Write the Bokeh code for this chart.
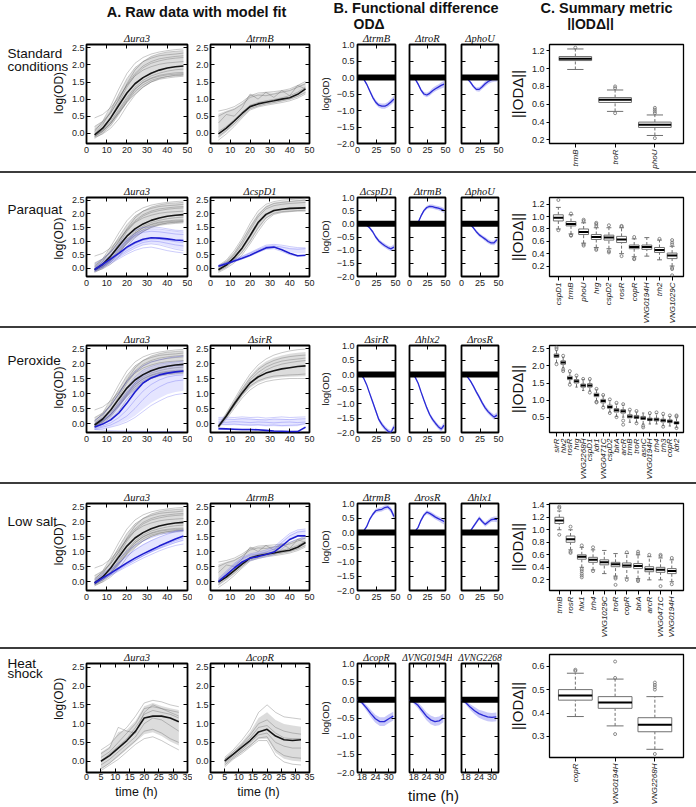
import math
import numpy as np
from bokeh.plotting import figure
from bokeh.layouts import row, column
from bokeh.models import Range1d, FixedTicker, Span, Spacer, NumeralTickFormatter, LinearAxis
from bokeh.embed import file_html
from bokeh.resources import INLINE
from bokeh.core.properties import value

FONT = "Liberation Sans"
SERIF = "Liberation Serif"

# ======================= DATA =======================
T = [4, 8, 12, 16, 20, 24, 28, 32, 36, 40, 44, 48]
TH = [5, 8, 11, 14, 17, 20, 23, 26, 29, 32]
TB5 = [16, 18, 20, 22, 24, 26, 28, 30, 32]

ura3_mean = [-0.05, 0.15, 0.45, 0.82, 1.18, 1.45, 1.63, 1.76, 1.85, 1.91, 1.95, 1.97]
ura3_reps = [
    [0.05, 0.35, 0.8, 1.3, 1.75, 2.05, 2.22, 2.32, 2.38, 2.42, 2.45, 2.47],
    [0.0, 0.25, 0.65, 1.15, 1.6, 1.92, 2.1, 2.2, 2.27, 2.3, 2.32, 2.35],
    [-0.1, 0.1, 0.45, 0.9, 1.35, 1.7, 1.92, 2.05, 2.12, 2.17, 2.2, 2.22],
    [0.45, 0.55, 0.75, 1.05, 1.4, 1.68, 1.85, 1.95, 2.02, 2.06, 2.08, 2.1],
    [-0.05, 0.1, 0.35, 0.7, 1.05, 1.35, 1.55, 1.68, 1.76, 1.82, 1.86, 1.88],
    [-0.1, 0.05, 0.3, 0.65, 1.0, 1.3, 1.48, 1.6, 1.67, 1.71, 1.73, 1.75],
    [-0.15, 0.0, 0.22, 0.55, 0.92, 1.22, 1.42, 1.55, 1.62, 1.66, 1.68, 1.7],
    [-0.12, -0.02, 0.15, 0.42, 0.8, 1.12, 1.35, 1.5, 1.58, 1.62, 1.65, 1.67],
    [0.2, 0.35, 0.6, 0.98, 1.45, 1.85, 2.1, 2.25, 2.33, 2.38, 2.4, 2.42],
    [-0.08, 0.05, 0.28, 0.6, 0.95, 1.28, 1.5, 1.62, 1.7, 1.74, 1.77, 1.78],
    [0.1, 0.3, 0.6, 1.0, 1.42, 1.75, 1.97, 2.1, 2.18, 2.22, 2.25, 2.27],
    [-0.05, 0.08, 0.3, 0.6, 0.9, 1.15, 1.35, 1.5, 1.6, 1.66, 1.7, 1.72],
]
trmB_mean = [-0.02, 0.15, 0.36, 0.58, 0.78, 0.86, 0.91, 0.95, 1.0, 1.04, 1.14, 1.3]
trmB_reps = [
    [0.65, 0.7, 0.78, 0.92, 1.1, 1.18, 1.2, 1.22, 1.25, 1.3, 1.4, 1.52],
    [0.5, 0.62, 0.7, 0.85, 1.05, 1.12, 1.1, 1.15, 1.2, 1.25, 1.35, 1.45],
    [-0.1, 0.08, 0.28, 0.5, 0.72, 0.8, 0.86, 0.9, 0.95, 1.0, 1.08, 1.2],
    [-0.2, -0.02, 0.2, 0.45, 0.68, 0.77, 0.82, 0.86, 0.9, 0.95, 1.03, 1.15],
    [0.05, 0.2, 0.4, 0.62, 0.82, 0.9, 0.95, 0.99, 1.04, 1.1, 1.2, 1.35],
    [0.3, 0.55, 0.5, 0.75, 1.15, 1.0, 1.2, 1.05, 1.25, 1.1, 1.4, 1.3],
]
paraquat_ura3_mean = [-0.05, 0.15, 0.35, 0.55, 0.78, 0.95, 1.07, 1.12, 1.11, 1.08, 1.04, 1.02]
paraquat_ura3_reps = [
    [0.15, 0.35, 0.6, 0.9, 1.2, 1.4, 1.5, 1.52, 1.5, 1.45, 1.4, 1.38],
    [0.0, 0.2, 0.45, 0.72, 1.0, 1.2, 1.32, 1.36, 1.34, 1.3, 1.26, 1.24],
    [-0.05, 0.12, 0.3, 0.5, 0.72, 0.9, 1.02, 1.08, 1.07, 1.03, 0.98, 0.95],
    [-0.1, 0.05, 0.22, 0.4, 0.58, 0.74, 0.86, 0.9, 0.86, 0.78, 0.7, 0.65],
    [-0.08, 0.08, 0.25, 0.45, 0.65, 0.82, 0.95, 1.0, 0.98, 0.92, 0.86, 0.82],
    [0.05, 0.25, 0.5, 0.8, 1.08, 1.28, 1.4, 1.45, 1.44, 1.4, 1.36, 1.33],
    [-0.12, 0.02, 0.18, 0.35, 0.52, 0.66, 0.75, 0.78, 0.72, 0.65, 0.6, 0.56],
]
cspD1_gray_mean = [-0.05, 0.12, 0.4, 0.75, 1.2, 1.68, 1.98, 2.12, 2.17, 2.2, 2.21, 2.22]
cspD1_gray_reps = [
    [0.1, 0.3, 0.65, 1.1, 1.65, 2.1, 2.35, 2.45, 2.5, 2.52, 2.55, 2.6],
    [0.0, 0.2, 0.5, 0.9, 1.4, 1.88, 2.18, 2.3, 2.35, 2.38, 2.4, 2.42],
    [-0.1, 0.05, 0.3, 0.6, 1.0, 1.48, 1.85, 2.02, 2.08, 2.1, 2.12, 2.13],
    [-0.15, 0.0, 0.2, 0.5, 0.9, 1.35, 1.75, 1.98, 2.05, 2.08, 2.1, 2.1],
    [0.05, 0.25, 0.55, 1.0, 1.5, 1.95, 2.25, 2.38, 2.42, 2.45, 2.48, 2.5],
    [-0.05, 0.1, 0.35, 0.7, 1.15, 1.62, 1.95, 2.1, 2.15, 2.18, 2.2, 2.25],
]
cspD1_blue_mean = [0.08, 0.17, 0.27, 0.37, 0.48, 0.62, 0.75, 0.78, 0.68, 0.55, 0.46, 0.48]
cspD1_blue_reps = [
    [0.12, 0.22, 0.33, 0.45, 0.58, 0.72, 0.85, 0.88, 0.85, 0.8, 0.76, 0.75],
    [0.05, 0.14, 0.24, 0.34, 0.45, 0.58, 0.7, 0.72, 0.62, 0.5, 0.44, 0.46],
    [0.1, 0.2, 0.3, 0.42, 0.55, 0.68, 0.8, 0.82, 0.78, 0.72, 0.7, 0.72],
]
perox_ura3_mean = [-0.12, -0.02, 0.12, 0.35, 0.68, 1.05, 1.35, 1.52, 1.62, 1.68, 1.72, 1.75]
perox_ura3_reps = [
    [0.1, 0.3, 0.6, 1.0, 1.4, 1.72, 1.92, 2.05, 2.12, 2.18, 2.22, 2.25],
    [-0.05, 0.1, 0.3, 0.6, 0.98, 1.35, 1.6, 1.75, 1.84, 1.9, 1.93, 1.95],
    [-0.15, -0.08, 0.02, 0.2, 0.45, 0.78, 1.08, 1.3, 1.45, 1.55, 1.6, 1.62],
    [-0.18, -0.12, -0.05, 0.08, 0.25, 0.5, 0.8, 1.05, 1.22, 1.35, 1.42, 1.45],
    [-0.2, -0.18, -0.12, -0.05, 0.05, 0.2, 0.4, 0.6, 0.75, 0.88, 0.96, 1.0],
    [-0.2, -0.22, -0.24, -0.25, -0.25, -0.26, -0.26, -0.27, -0.27, -0.27, -0.27, -0.27],
    [0.0, 0.2, 0.45, 0.8, 1.2, 1.55, 1.78, 1.9, 1.98, 2.02, 2.05, 2.08],
]
sirR_gray_mean = [-0.1, 0.25, 0.65, 1.02, 1.35, 1.55, 1.68, 1.76, 1.82, 1.86, 1.9, 1.92]
sirR_gray_reps = [
    [-0.05, 0.35, 0.8, 1.25, 1.65, 1.95, 2.15, 2.28, 2.36, 2.42, 2.46, 2.48],
    [-0.08, 0.3, 0.72, 1.15, 1.52, 1.8, 1.98, 2.1, 2.18, 2.23, 2.26, 2.28],
    [-0.1, 0.28, 0.68, 1.08, 1.45, 1.7, 1.88, 2.0, 2.08, 2.12, 2.15, 2.18],
    [-0.12, 0.2, 0.58, 0.95, 1.25, 1.42, 1.52, 1.58, 1.6, 1.62, 1.63, 1.65],
    [-0.15, 0.15, 0.5, 0.85, 1.12, 1.3, 1.4, 1.45, 1.48, 1.5, 1.5, 1.5],
    [-0.1, 0.25, 0.62, 1.0, 1.35, 1.6, 1.78, 1.9, 1.98, 2.03, 2.07, 2.1],
]
sirR_blue_mean = [-0.17, -0.18, -0.19, -0.2, -0.2, -0.21, -0.23, -0.25, -0.26, -0.27, -0.27, -0.12]
sirR_blue_reps = [
    [0.2, 0.21, 0.2, 0.22, 0.2, 0.21, 0.18, 0.2, 0.22, 0.2, 0.21, 0.22],
    [0.15, 0.15, 0.14, 0.16, 0.15, 0.13, 0.12, 0.15, 0.14, 0.13, 0.15, 0.16],
    [0.05, 0.04, 0.06, 0.05, 0.03, 0.05, 0.04, 0.02, 0.04, 0.05, 0.03, 0.05],
    [-0.02, -0.03, -0.02, -0.04, -0.05, -0.04, -0.06, -0.05, -0.07, -0.06, -0.05, 0.0],
    [-0.2, -0.2, -0.21, -0.22, -0.22, -0.23, -0.24, -0.26, -0.27, -0.27, -0.26, -0.15],
]
lowsalt_ura3_mean = [-0.05, 0.12, 0.28, 0.45, 0.62, 0.78, 0.92, 1.05, 1.18, 1.3, 1.42, 1.52]
lowsalt_ura3_reps = [
    [0.0, 0.2, 0.4, 0.62, 0.85, 1.05, 1.22, 1.36, 1.48, 1.58, 1.66, 1.72],
    [-0.05, 0.1, 0.25, 0.42, 0.58, 0.72, 0.86, 0.98, 1.1, 1.2, 1.3, 1.38],
    [-0.1, 0.05, 0.2, 0.35, 0.5, 0.64, 0.78, 0.9, 1.02, 1.12, 1.2, 1.25],
    [0.05, 0.25, 0.48, 0.75, 1.0, 1.2, 1.35, 1.46, 1.55, 1.62, 1.68, 1.7],
    [-0.08, 0.08, 0.22, 0.38, 0.55, 0.7, 0.85, 1.0, 1.12, 1.25, 1.36, 1.45],
]
lowsalt_trmB_mean = [0.0, 0.22, 0.45, 0.65, 0.78, 0.83, 0.9, 0.98, 1.18, 1.4, 1.52, 1.52]
lowsalt_trmB_reps = [
    [0.05, 0.3, 0.55, 0.75, 0.88, 0.92, 0.98, 1.08, 1.3, 1.52, 1.65, 1.68],
    [-0.05, 0.15, 0.38, 0.58, 0.7, 0.76, 0.83, 0.9, 1.08, 1.3, 1.42, 1.45],
    [0.1, 0.35, 0.6, 0.8, 0.92, 0.98, 1.05, 1.15, 1.38, 1.6, 1.72, 1.75],
]
heat_ura3_mean = [0.0, 0.15, 0.35, 0.55, 0.8, 1.15, 1.2, 1.2, 1.15, 1.05]
heat_ura3_reps = [
    [0.3, 0.45, 0.7, 0.9, 1.2, 1.55, 1.62, 1.58, 1.5, 1.45],
    [0.1, 0.25, 0.5, 0.75, 1.0, 1.4, 1.45, 1.4, 1.3, 1.2],
    [-0.1, 0.05, 0.25, 0.45, 0.65, 1.0, 1.15, 1.1, 0.95, 0.8],
    [-0.2, -0.05, 0.15, 0.35, 0.55, 0.8, 0.85, 0.75, 0.6, 0.5],
    [-0.25, -0.1, 0.05, 0.25, 0.45, 0.6, 0.65, 0.55, 0.42, 0.3],
    [0.2, 0.35, 0.9, 0.8, 0.75, 1.3, 1.5, 1.4, 1.35, 1.3],
    [0.0, 0.2, 0.4, 0.6, 0.9, 1.25, 1.35, 1.3, 1.25, 1.15],
]
heat_copR_mean = [0.0, 0.18, 0.37, 0.55, 0.78, 0.85, 0.67, 0.57, 0.55, 0.57]
heat_copR_reps = [
    [0.1, 0.3, 0.55, 0.85, 1.3, 1.5, 1.3, 1.18, 1.15, 1.12],
    [0.05, 0.25, 0.45, 0.7, 1.0, 1.1, 0.9, 0.8, 0.75, 0.72],
    [-0.05, 0.12, 0.3, 0.5, 0.7, 0.75, 0.5, 0.4, 0.35, 0.35],
    [-0.1, 0.08, 0.25, 0.42, 0.62, 0.65, 0.3, 0.15, 0.1, 0.08],
    [-0.15, 0.05, 0.2, 0.38, 0.55, 0.55, 0.15, -0.02, -0.08, -0.1],
    [0.05, 0.2, 0.42, 0.62, 0.9, 0.95, 0.75, 0.62, 0.6, 0.6],
]

b_std_trmB = [0.0, -0.04, -0.2, -0.4, -0.6, -0.75, -0.84, -0.87, -0.87, -0.82, -0.74, -0.65]
b_std_troR = [0.0, -0.05, -0.2, -0.38, -0.5, -0.53, -0.48, -0.4, -0.34, -0.29, -0.24, -0.2]
b_std_phoU = [0.0, -0.04, -0.14, -0.27, -0.36, -0.36, -0.28, -0.19, -0.12, -0.07, -0.04, -0.02]
b_par_cspD1 = [0.0, -0.01, -0.05, -0.15, -0.3, -0.5, -0.65, -0.75, -0.83, -0.9, -0.95, -0.88]
b_par_trmB = [0.0, 0.0, 0.05, 0.3, 0.5, 0.62, 0.66, 0.65, 0.62, 0.6, 0.56, 0.5]
b_par_phoU = [0.0, 0.0, -0.03, -0.15, -0.3, -0.42, -0.5, -0.58, -0.67, -0.72, -0.72, -0.6]
b_per_sirR = [0.0, -0.12, -0.35, -0.65, -0.95, -1.25, -1.55, -1.72, -1.85, -1.95, -2.0, -1.8]
b_per_hlx2 = [0.0, -0.1, -0.3, -0.6, -0.88, -1.15, -1.38, -1.55, -1.68, -1.8, -1.88, -1.75]
b_per_rosR = [0.0, -0.08, -0.22, -0.4, -0.6, -0.78, -0.98, -1.15, -1.28, -1.38, -1.47, -1.4]
b_low_trmB = [0.0, 0.05, 0.2, 0.45, 0.62, 0.75, 0.78, 0.8, 0.86, 0.88, 0.78, 0.55]
b_low_rosR = [0.0, 0.05, 0.18, 0.42, 0.6, 0.7, 0.66, 0.6, 0.53, 0.48, 0.43, 0.38]
b_low_hlx1 = [0.0, 0.0, 0.05, 0.2, 0.35, 0.5, 0.38, 0.28, 0.36, 0.44, 0.46, 0.45]
b_heat_copR = [0.0, -0.08, -0.22, -0.38, -0.52, -0.6, -0.6, -0.52, -0.45]
b_heat_0194 = [0.0, -0.06, -0.15, -0.3, -0.45, -0.55, -0.6, -0.58, -0.5]
b_heat_2268 = [0.0, -0.08, -0.2, -0.3, -0.38, -0.43, -0.47, -0.48, -0.47]
b_band = [0.02, 0.03, 0.04, 0.05, 0.06, 0.07, 0.07, 0.08, 0.08, 0.08, 0.09, 0.1]
b_band_heat = [0.02, 0.05, 0.08, 0.1, 0.11, 0.12, 0.12, 0.12, 0.12]

c1_cats = ["trmB", "troR", "phoU"]
c1_med = [1.11, 0.65, 0.37]
c1_q1 = [1.09, 0.62, 0.34]
c1_q3 = [1.135, 0.675, 0.40]
c1_lo = [0.99, 0.52, 0.25]
c1_hi = [1.22, 0.76, 0.48]
c1_out = [[1.235], [0.78, 0.80, 0.50], [0.50, 0.52, 0.54, 0.56, 0.22]]

c2_cats = ["cspD1", "trmB", "phoU", "hrg", "cspD2", "rosR", "copR", "VNG0194H", "trh2", "VNG1029C"]
c2_med = [0.98, 0.88, 0.75, 0.67, 0.66, 0.63, 0.51, 0.51, 0.46, 0.37]
c2_q1 = [0.93, 0.85, 0.71, 0.63, 0.62, 0.58, 0.48, 0.47, 0.42, 0.32]
c2_q3 = [1.03, 0.92, 0.80, 0.71, 0.70, 0.68, 0.54, 0.54, 0.50, 0.41]
c2_lo = [0.80, 0.72, 0.57, 0.50, 0.48, 0.40, 0.35, 0.36, 0.30, 0.20]
c2_hi = [1.15, 1.03, 0.90, 0.82, 0.82, 0.82, 0.64, 0.66, 0.62, 0.52]
c2_out = [[1.27, 0.78], [1.05, 0.70, 0.69], [0.93, 0.95, 0.55, 0.53], [0.85, 0.88, 0.90, 0.48, 0.46],
          [0.86, 0.44, 0.42], [0.85, 0.84, 0.36], [0.67, 0.32, 0.31], [], [0.64],
          [0.55, 0.58, 0.62, 0.17, 0.15, 0.05]]

c3_cats = ["sirR", "hlx2", "rosR", "hrg", "VNG2268H", "cspD1", "idr1", "VNG0471C", "cspD2", "birA",
           "arcR", "trmB", "troR", "asnC", "VNG0194H", "trh4", "trh3", "copR", "idr2"]
c3_med = [2.3, 2.1, 1.65, 1.55, 1.43, 1.43, 1.15, 0.97, 0.8, 0.7, 0.67, 0.52, 0.5, 0.47, 0.43, 0.43, 0.4, 0.38, 0.33]
c3_q1 = [2.25, 2.05, 1.6, 1.5, 1.38, 1.38, 1.1, 0.92, 0.76, 0.65, 0.62, 0.48, 0.46, 0.43, 0.4, 0.39, 0.36, 0.34, 0.3]
c3_q3 = [2.35, 2.15, 1.7, 1.6, 1.47, 1.48, 1.2, 1.02, 0.85, 0.75, 0.72, 0.57, 0.55, 0.52, 0.47, 0.47, 0.44, 0.42, 0.37]
c3_lo = [2.1, 1.95, 1.5, 1.38, 1.28, 1.27, 0.98, 0.82, 0.65, 0.52, 0.5, 0.35, 0.35, 0.3, 0.3, 0.3, 0.25, 0.24, 0.2]
c3_hi = [2.45, 2.25, 1.8, 1.68, 1.6, 1.58, 1.3, 1.12, 0.98, 0.88, 0.85, 0.68, 0.65, 0.62, 0.58, 0.6, 0.55, 0.52, 0.48]
c3_out = [[2.55, 2.5, 2.05], [2.3, 1.9, 1.85], [1.85, 1.45], [1.72], [1.62], [1.62, 1.22],
          [1.33, 0.95, 0.93], [1.15, 0.78], [1.02, 0.62], [0.92, 0.5], [0.88, 0.4, 0.28], [0.72],
          [0.68, 0.32], [0.2, 0.25], [0.62], [0.64], [0.6, 0.22], [0.55], [0.52, 0.55, 0.18]]

c4_cats = ["trmB", "rosR", "hlx1", "trh4", "VNG1029C", "troR", "copR", "birA", "arcR", "VNG0471C", "VNG0194H"]
c4_med = [1.15, 0.85, 0.57, 0.52, 0.48, 0.45, 0.43, 0.42, 0.37, 0.36, 0.34]
c4_q1 = [1.1, 0.8, 0.53, 0.48, 0.44, 0.41, 0.4, 0.38, 0.33, 0.32, 0.3]
c4_q3 = [1.2, 0.9, 0.6, 0.56, 0.52, 0.48, 0.47, 0.46, 0.41, 0.4, 0.38]
c4_lo = [1.0, 0.68, 0.4, 0.36, 0.3, 0.26, 0.23, 0.22, 0.2, 0.2, 0.17]
c4_hi = [1.3, 1.0, 0.72, 0.68, 0.67, 0.62, 0.62, 0.6, 0.57, 0.55, 0.52]
c4_out = [[1.35, 1.37, 0.92], [1.05, 0.65, 0.63], [0.75, 0.37, 0.34, 0.3, 0.27, 0.24], [0.72, 0.34], [],
          [0.24, 0.22, 0.12], [0.64, 0.2], [0.62, 0.65, 0.2, 0.18], [0.6], [0.58, 0.6, 0.1], [0.55, 0.13]]

c5_cats = ["copR", "VNG0194H", "VNG2268H"]
c5_med = [0.475, 0.445, 0.35]
c5_q1 = [0.455, 0.42, 0.32]
c5_q3 = [0.50, 0.47, 0.38]
c5_lo = [0.385, 0.345, 0.245]
c5_hi = [0.57, 0.545, 0.47]
c5_out = [[0.58, 0.585], [0.62, 0.31, 0.55], [0.50, 0.51, 0.52, 0.53, 0.225]]

# ======================= STYLE / LAYOUT =======================
# (figure width, left border, right border)
W = dict(L=(68, 0, 0), A1=(124, 17, 5), A2=(124, 15, 7), B1=(86, 41, 7), B2=(50, 7, 7),
         B3=(53, 9, 7), C=(191, 41, 13))
YR_A = (-0.3, 2.6)
YT_A = [0.0, 0.5, 1.0, 1.5, 2.0, 2.5]
YR_B = (-2.0, 1.0)
YT_B = [-2.0, -1.5, -1.0, -0.5, 0.0, 0.5, 1.0]
YL_B = {-2.0: "\u22122.0", -1.5: "\u22121.5", -1.0: "\u22121.0", -0.5: "\u22120.5", 0.0: "0.0", 0.5: "0.5", 1.0: "1.0"}

GRAY_LINE = "#555555"
BLUE_LINE = "#4a4af0"
BLUE_MEAN = "#1e1ed0"


def make_fig(key, h, xr, yr, tb, bb, title=""):
    w, lb, rb = W[key]
    p = figure(width=w, height=h, x_range=Range1d(*xr), y_range=Range1d(*yr),
               output_backend="svg", toolbar_location=None, title=title,
               min_border_left=lb, min_border_right=rb, min_border_top=tb, min_border_bottom=bb)
    p.grid.visible = False
    p.outline_line_color = "black"
    p.outline_line_width = 1.8
    p.background_fill_color = "white"
    p.border_fill_color = "white"
    if title:
        p.title.align = "center"
        p.title.text_font = SERIF
        p.title.text_font_style = "italic"
        p.title.text_font_size = "10.5px"
        p.title.text_color = "#111111"
        p.title.standoff = 1
        p.title.offset = 0
    else:
        p.title.visible = False
    return p


def style_axis(ax, size="9px", tin=4, tout=0, standoff=3):
    ax.axis_line_color = None
    ax.major_tick_in = tin
    ax.major_tick_out = tout
    ax.major_tick_line_color = "black"
    ax.minor_tick_line_color = None
    ax.major_label_text_font = FONT
    ax.major_label_text_font_size = size
    ax.major_label_text_color = "#222222"
    ax.major_label_standoff = standoff
    ax.axis_label_text_font = FONT
    ax.axis_label_text_font_style = "normal"
    ax.axis_label_text_color = "#111111"


def mirror_ticks(p, xticks, yticks):
    # matplotlib-style inward ticks on the top and right edges of the frame (no labels)
    for loc, ticks in (("right", yticks), ("above", xticks)):
        ax = LinearAxis(ticker=FixedTicker(ticks=ticks))
        ax.axis_line_color = None
        ax.major_tick_in = 4
        ax.major_tick_out = 0
        ax.major_tick_line_color = "black"
        ax.minor_tick_line_color = None
        ax.major_label_overrides = {k: "" for k in ticks}
        ax.major_label_text_font_size = "1px"
        ax.major_label_standoff = 0
        p.add_layout(ax, loc)


def a_panel(key, h, tb, bb, xr, xticks, t, title, g_reps, g_mean, b_reps=None, b_mean=None, xstand=3):
    p = make_fig(key, h, xr, YR_A, tb, bb, title)
    g = np.array(g_reps)
    p.varea(x=t, y1=np.quantile(g, 0.1, axis=0), y2=np.quantile(g, 0.9, axis=0),
            fill_color="#808080", fill_alpha=0.28)
    p.multi_line(xs=[t] * len(g_reps), ys=g_reps, line_color=GRAY_LINE, line_alpha=0.4, line_width=0.8)
    if b_reps is not None:
        b = np.array(b_reps)
        p.varea(x=t, y1=np.quantile(b, 0.2, axis=0), y2=np.quantile(b, 0.8, axis=0),
                fill_color="#7070ff", fill_alpha=0.18)
        p.multi_line(xs=[t] * len(b_reps), ys=b_reps, line_color=BLUE_LINE, line_alpha=0.35, line_width=0.8)
    p.line(t, g_mean, line_color="#151515", line_width=1.6)
    if b_mean is not None:
        p.line(t, b_mean, line_color=BLUE_MEAN, line_width=1.6)
    style_axis(p.xaxis[0], standoff=xstand)
    style_axis(p.yaxis[0], standoff=2)
    p.xaxis[0].ticker = FixedTicker(ticks=xticks)
    p.yaxis[0].ticker = FixedTicker(ticks=YT_A)
    p.yaxis[0].formatter = NumeralTickFormatter(format="0.0")
    mirror_ticks(p, xticks, YT_A)
    return p


def b_panel(key, h, tb, bb, xr, xticks, t, title, vals, half, labels=False, tsize="10.5px", xstand=3):
    p = make_fig(key, h, xr, YR_B, tb, bb, title)
    p.title.text_font_size = tsize
    lo = [v - s for v, s in zip(vals, half)]
    hi = [v + s for v, s in zip(vals, half)]
    p.varea(x=t, y1=lo, y2=hi, fill_color="#9c9cf4", fill_alpha=0.55)
    p.line(t, vals, line_color="#2a2ad6", line_width=1.3)
    p.add_layout(Span(location=0, dimension="width", line_color="black", line_width=6))
    style_axis(p.xaxis[0], standoff=xstand)
    style_axis(p.yaxis[0])
    p.xaxis[0].ticker = FixedTicker(ticks=xticks)
    p.yaxis[0].ticker = FixedTicker(ticks=YT_B)
    if labels:
        p.yaxis[0].major_label_overrides = YL_B
        p.yaxis[0].axis_label = "log(OD)"
        p.yaxis[0].axis_label_text_font_size = "9.5px"
        p.yaxis[0].axis_label_standoff = 3
    else:
        p.yaxis[0].major_label_overrides = {k: "" for k in YT_B}
    mirror_ticks(p, xticks, YT_B)
    return p


def c_panel(h, tb, bb, cats, med, q1, q3, lo, hi, outl, yr, yticks, pad, bw):
    n = len(cats)
    pos = [float(i) for i in range(1, n + 1)]
    p = make_fig("C", h, (1 - pad[0], n + pad[1]), yr, tb, bb)
    p.outline_line_width = 1.3
    cw = bw * 0.25
    ec = "#707070"
    p.segment(x0=pos, y0=q3, x1=pos, y1=hi, line_color=ec, line_width=1, line_dash="3 2")
    p.segment(x0=pos, y0=lo, x1=pos, y1=q1, line_color=ec, line_width=1, line_dash="3 2")
    p.segment(x0=[x - cw for x in pos], y0=hi, x1=[x + cw for x in pos], y1=hi, line_color=ec, line_width=1)
    p.segment(x0=[x - cw for x in pos], y0=lo, x1=[x + cw for x in pos], y1=lo, line_color=ec, line_width=1)
    p.vbar(x=pos, width=bw, bottom=q1, top=q3, fill_color="white", line_color=ec, line_width=1)
    p.segment(x0=[x - bw / 2 for x in pos], y0=med, x1=[x + bw / 2 for x in pos], y1=med,
              line_color="black", line_width=2)
    ox = [pos[i] for i, o in enumerate(outl) for _ in o]
    oy = [v for o in outl for v in o]
    p.scatter(ox, oy, marker="circle", size=3, fill_color=None, line_color=ec, line_width=0.8)
    style_axis(p.xaxis[0], size="8px", tin=0, tout=4, standoff=2)
    style_axis(p.yaxis[0], size="9px", tin=0, tout=3, standoff=2)
    p.xaxis.ticker = FixedTicker(ticks=pos)
    p.xaxis.major_label_overrides = {i + 1: c for i, c in enumerate(cats)}
    p.xaxis.major_label_orientation = math.pi / 2
    p.xaxis.major_label_text_font_style = "italic"
    p.yaxis.ticker = FixedTicker(ticks=yticks)
    p.yaxis.formatter = NumeralTickFormatter(format="0.0")
    p.yaxis.axis_label = "||OD\u0394||"
    p.yaxis.axis_label_text_font_size = "15px"
    p.yaxis.axis_label_standoff = 3
    return p


def text_strip(w, h):
    s = figure(width=w, height=h, output_backend="svg", toolbar_location=None,
               x_axis_location=None, y_axis_location=None, min_border=0,
               x_range=Range1d(0, w), y_range=Range1d(h, 0))
    s.grid.visible = False
    s.outline_line_color = None
    return s


def label_fig(h, lines, frame_top, frame_bottom):
    p = text_strip(W["L"][0], h)
    p.text(x=[7] * len(lines), y=[y for _, y in lines], text=[t for t, _ in lines],
           text_font=value(FONT), text_font_size="13.5px", text_align="left",
           text_baseline="middle", text_color="#111111")
    p.text(x=[58], y=[(frame_top + frame_bottom) / 2], text=["log(OD)"], angle=math.pi / 2,
           text_font=value(FONT), text_font_size="12px", text_align="center",
           text_baseline="middle", text_color="#111111")
    return p


def separator():
    return Spacer(width=696, height=2, styles={"background-color": "#3c3c3c"})


# ---------------- header ----------------
HH = 30
hdr = text_strip(696, HH)
hdr.text(x=[196], y=[11], text=["A. Raw data with model fit"], text_font=value(FONT),
         text_font_style="bold", text_font_size="14.5px", text_align="center", text_baseline="middle",
         text_color="#111111")
hdr.text(x=[333, 540], y=[7, 7], text=["B. Functional difference", "C. Summary metric"],
         text_font=value(FONT), text_font_style="bold", text_font_size="14.5px", text_align="left",
         text_baseline="middle", text_color="#111111")
hdr.text(x=[353], y=[23], text=["OD\u0394"], text_font=value(FONT), text_font_style="bold",
         text_font_size="14px", text_align="left", text_baseline="middle", text_color="#111111")
hdr.text(x=[590], y=[23], text=["||OD\u0394||"], text_font=value(FONT), text_font_style="bold",
         text_font_size="14px", text_align="center", text_baseline="middle", text_color="#111111")

XR_A = (0, 50)
XT_A = [0, 10, 20, 30, 40, 50]
XR_B = (0, 50)
XT_B = [0, 25, 50]

# ---------------- row 1: standard ----------------
h, tb, bb = 141, 13, 16
lab = label_fig(h, [("Standard", 13), ("conditions", 32)], tb, h - bb)
a1 = a_panel("A1", h, tb, bb, XR_A, XT_A, T, "\u0394ura3", ura3_reps, ura3_mean)
a2 = a_panel("A2", h, tb, bb, XR_A, XT_A, T, "\u0394trmB", trmB_reps, trmB_mean)
b1 = b_panel("B1", h, tb, 15, XR_B, XT_B, T, "\u0394trmB", b_std_trmB, b_band, labels=True)
b2 = b_panel("B2", h, tb, 15, XR_B, XT_B, T, "\u0394troR", b_std_troR, b_band)
b3 = b_panel("B3", h, tb, 15, XR_B, XT_B, T, "\u0394phoU", b_std_phoU, b_band)
c = c_panel(h, 10, 28, c1_cats, c1_med, c1_q1, c1_q3, c1_lo, c1_hi, c1_out, (0.16, 1.27),
            [0.2, 0.4, 0.6, 0.8, 1.0, 1.2], (0.65, 0.72), 0.82)
row1 = row(lab, a1, a2, b1, b2, b3, c)

# ---------------- row 2: paraquat ----------------
h, tb, bb = 153, 24, 18
lab = label_fig(h, [("Paraquat", 24)], tb, h - bb)
a1 = a_panel("A1", h, tb, bb, XR_A, XT_A, T, "\u0394ura3", ura3_reps, ura3_mean,
             paraquat_ura3_reps, paraquat_ura3_mean)
a2 = a_panel("A2", h, tb, bb, XR_A, XT_A, T, "\u0394cspD1", cspD1_gray_reps, cspD1_gray_mean,
             cspD1_blue_reps, cspD1_blue_mean)
b1 = b_panel("B1", h, 13, bb, XR_B, XT_B, T, "\u0394cspD1", b_par_cspD1, b_band, labels=True)
b2 = b_panel("B2", h, 13, bb, XR_B, XT_B, T, "\u0394trmB", b_par_trmB, b_band)
b3 = b_panel("B3", h, 13, bb, XR_B, XT_B, T, "\u0394phoU", b_par_phoU, b_band)
c = c_panel(h, 4, 48, c2_cats, c2_med, c2_q1, c2_q3, c2_lo, c2_hi, c2_out, (0.03, 1.31),
            [0.2, 0.4, 0.6, 0.8, 1.0, 1.2], (0.7, 0.9), 0.78)
row2 = row(lab, a1, a2, b1, b2, b3, c)

# ---------------- row 3: peroxide ----------------
h, tb, bb = 154, 17, 22
lab = label_fig(h, [("Peroxide", 26)], tb, h - bb)
a1 = a_panel("A1", h, tb, bb, XR_A, XT_A, T, "\u0394ura3", ura3_reps, ura3_mean,
             perox_ura3_reps, perox_ura3_mean)
a2 = a_panel("A2", h, tb, bb, XR_A, XT_A, T, "\u0394sirR", sirR_gray_reps, sirR_gray_mean,
             sirR_blue_reps, sirR_blue_mean)
b1 = b_panel("B1", h, tb, 24, XR_B, XT_B, T, "\u0394sirR", b_per_sirR, b_band, labels=True)
b2 = b_panel("B2", h, tb, 24, XR_B, XT_B, T, "\u0394hlx2", b_per_hlx2, b_band)
b3 = b_panel("B3", h, tb, 24, XR_B, XT_B, T, "\u0394rosR", b_per_rosR, b_band)
c = c_panel(h, 5, 49, c3_cats, c3_med, c3_q1, c3_q3, c3_lo, c3_hi, c3_out, (0.05, 2.6),
            [0.5, 1.0, 1.5, 2.0, 2.5], (1.05, 1.05), 0.7)
row3 = row(lab, a1, a2, b1, b2, b3, c)

# ---------------- row 4: low salt ----------------
h, tb, bb = 163, 19, 29
lab = label_fig(h, [("Low salt", 33)], tb, h - bb)
a1 = a_panel("A1", h, tb, bb, XR_A, XT_A, T, "\u0394ura3", ura3_reps, ura3_mean,
             lowsalt_ura3_reps, lowsalt_ura3_mean)
a2 = a_panel("A2", h, tb, bb, XR_A, XT_A, T, "\u0394trmB", trmB_reps, trmB_mean,
             lowsalt_trmB_reps, lowsalt_trmB_mean)
b1 = b_panel("B1", h, 18, 32, XR_B, XT_B, T, "\u0394trmB", b_low_trmB, b_band, labels=True)
b2 = b_panel("B2", h, 18, 32, XR_B, XT_B, T, "\u0394rosR", b_low_rosR, b_band)
b3 = b_panel("B3", h, 18, 32, XR_B, XT_B, T, "\u0394hlx1", b_low_hlx1, b_band)
c = c_panel(h, 6, 57, c4_cats, c4_med, c4_q1, c4_q3, c4_lo, c4_hi, c4_out, (0.03, 1.42),
            [0.2, 0.4, 0.6, 0.8, 1.0, 1.2, 1.4], (0.87, 1.04), 0.78)
row4 = row(lab, a1, a2, b1, b2, b3, c)

# ---------------- row 5: heat shock ----------------
h, tb = 158, 13
sub_h, sub_bb = 135, 12
XR_H = (0, 35)
XT_H = [0, 5, 10, 15, 20, 25, 30, 35]
lab = label_fig(h, [("Heat", 14), ("shock", 29)], tb, sub_h - sub_bb)
a1 = a_panel("A1", sub_h, tb, sub_bb, XR_H, XT_H, TH, "\u0394ura3", heat_ura3_reps, heat_ura3_mean, xstand=1)
a2 = a_panel("A2", sub_h, tb, sub_bb, XR_H, XT_H, TH, "\u0394copR", heat_copR_reps, heat_copR_mean, xstand=1)
XR_B5 = (16, 33)
XT_B5 = [18, 24, 30]
b1 = b_panel("B1", sub_h, tb, sub_bb, XR_B5, XT_B5, TB5, "\u0394copR", b_heat_copR, b_band_heat,
             labels=True, tsize="10px", xstand=1)
b2 = b_panel("B2", sub_h, tb, sub_bb, XR_B5, XT_B5, TB5, "\u0394VNG0194H", b_heat_0194, b_band_heat,
             tsize="9.5px", xstand=1)
b3 = b_panel("B3", sub_h, tb, sub_bb, XR_B5, XT_B5, TB5, "\u0394VNG2268", b_heat_2268, b_band_heat,
             tsize="9.5px", xstand=1)
strip_w = W["A1"][0] + W["A2"][0] + W["B1"][0] + W["B2"][0] + W["B3"][0]
strip = text_strip(strip_w, h - sub_h)
strip.text(x=[68, 190], y=[7, 7], text=["time (h)", "time (h)"], text_font=value(FONT),
           text_font_size="12.5px", text_align="center", text_baseline="middle", text_color="#111111")
strip.text(x=[365], y=[11], text=["time (h)"], text_font=value(FONT), text_font_size="15px",
           text_align="center", text_baseline="middle", text_color="#111111")
mid = column(row(a1, a2, b1, b2, b3), strip)
c = c_panel(h, 5, 49, c5_cats, c5_med, c5_q1, c5_q3, c5_lo, c5_hi, c5_out, (0.21, 0.65),
            [0.3, 0.4, 0.5, 0.6], (0.65, 0.72), 0.85)
row5 = row(lab, mid, c)

layout = column(hdr, row1, separator(), row2, separator(), row3, separator(), row4, separator(), row5)

open("out.html", "w").write(file_html(layout, INLINE))
